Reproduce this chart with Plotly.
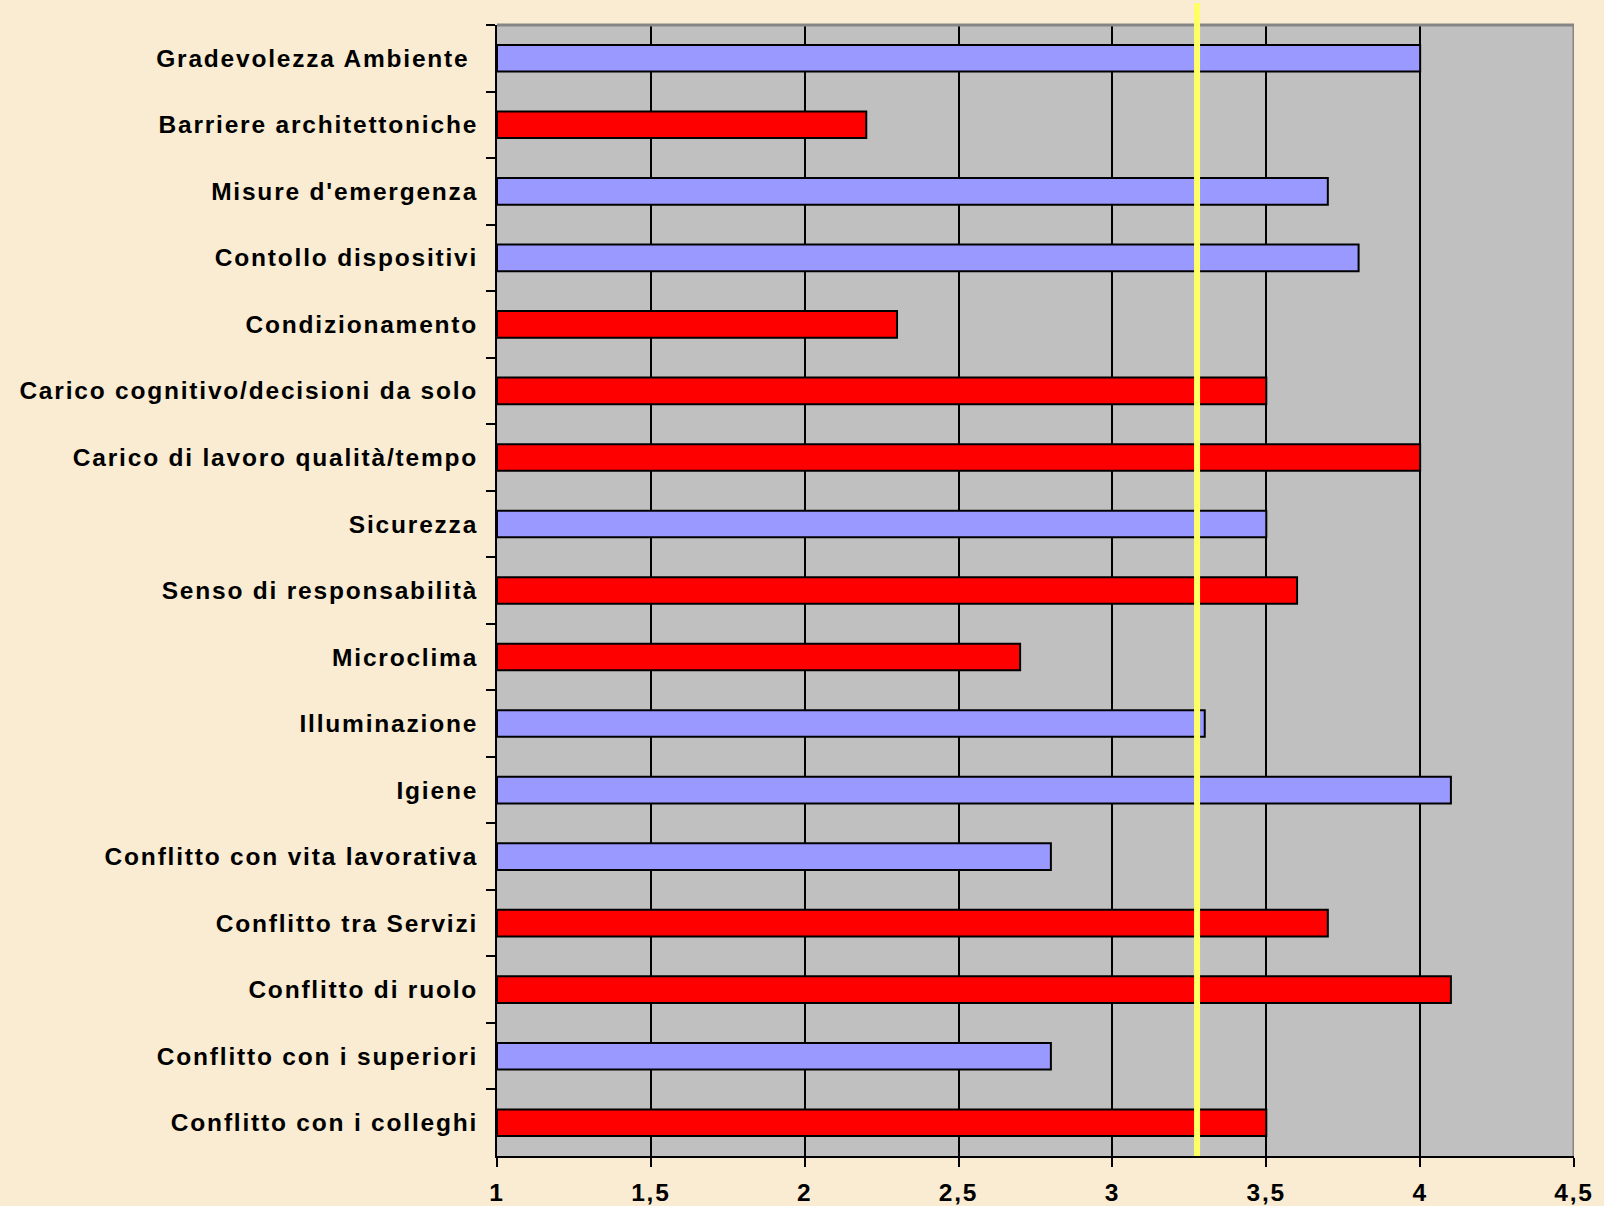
import plotly.graph_objects as go

# categories top to bottom
categories = [
    "Gradevolezza Ambiente\u00a0",
    "Barriere architettoniche",
    "Misure d'emergenza",
    "Contollo dispositivi",
    "Condizionamento",
    "Carico cognitivo/decisioni da solo",
    "Carico di lavoro qualità/tempo",
    "Sicurezza",
    "Senso di responsabilità",
    "Microclima",
    "Illuminazione",
    "Igiene",
    "Conflitto con vita lavorativa",
    "Conflitto tra Servizi",
    "Conflitto di ruolo",
    "Conflitto con i superiori",
    "Conflitto con i colleghi",
]
values = [4.0, 2.2, 3.7, 3.8, 2.3, 3.5, 4.0, 3.5, 3.6, 2.7, 3.3, 4.1, 2.8, 3.7, 4.1, 2.8, 3.5]
is_red = [0, 1, 0, 0, 1, 1, 1, 0, 1, 1, 0, 0, 0, 1, 1, 0, 1]
threshold = 3.275

BLUE = "#9999FF"
RED = "#FF0000"
BG = "#F9ECD2"
colors = [RED if r else BLUE for r in is_red]
FONT = "Arial, Liberation Sans, sans-serif"

fig = go.Figure(go.Bar(
    x=[v - 1 for v in values], base=1, y=categories, orientation="h",
    marker=dict(color=colors, line=dict(color="black", width=2)),
    width=0.4, hoverinfo="skip",
))

fig.update_layout(
    width=1604, height=1206, autosize=False,
    margin=dict(l=497, r=30, t=25, b=50),
    paper_bgcolor=BG, plot_bgcolor="#C0C0C0",
    separators=",.",
    showlegend=False,
    font=dict(family=FONT, size=24.5, color="black", weight="bold"),
)
fig.update_xaxes(
    range=[1, 4.5], dtick=0.5, tick0=1, automargin=False,
    showgrid=True, gridcolor="black", gridwidth=2,
    showline=True, linecolor="black", linewidth=2,
    ticks="outside", ticklen=9, tickwidth=2, tickcolor="black",
    ticklabelstandoff=5, zeroline=False,
    tickfont=dict(family=FONT, size=24.5, weight="bold"),
)
fig.update_yaxes(
    autorange="reversed", tickson="boundaries", automargin=False,
    showgrid=False, showline=True, linecolor="black", linewidth=2,
    ticks="outside", ticklen=9, tickwidth=2, tickcolor="black",
    ticklabelstandoff=12,
    tickfont=dict(family=FONT, size=24.5, weight="bold"),
)

# grey top / right frame
fig.add_shape(type="line", xref="x", yref="paper", x0=4.5, x1=4.5, y0=0, y1=1,
              line=dict(color="#858585", width=3))
fig.add_shape(type="line", xref="paper", yref="paper", x0=0, x1=1, y0=1, y1=1,
              line=dict(color="#858585", width=3))
# yellow reference line
fig.add_shape(type="line", xref="x", yref="paper", x0=threshold, x1=threshold,
              y0=0, y1=1.0195, line=dict(color="#FFFF66", width=6))

# page without body margin, widely spaced tick labels like the original
post = (
    "document.body.style.margin='0';"
    "document.body.style.background='" + BG + "';"
    "var s=document.createElement('style');"
    "s.textContent='.xtick text,.ytick text{letter-spacing:1.8px}';"
    "document.head.appendChild(s);"
)
fig.write_html("out.html", post_script=post, config={"displayModeBar": False})
